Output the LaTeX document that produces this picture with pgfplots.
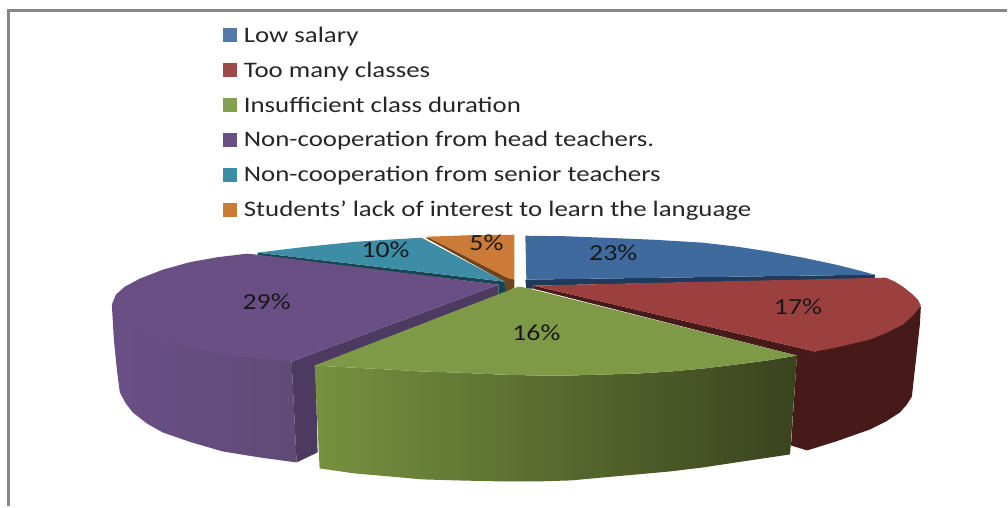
\documentclass[border=0pt]{standalone}
\usepackage{fontspec}
\setmainfont{Carlito}[FakeStretch=1.21]
\usepackage{pgfplots}
\pgfplotsset{compat=1.18}
\definecolor{cB}{HTML}{3F6A9D}\definecolor{cBd}{HTML}{1F3A5A}
\definecolor{cR}{HTML}{9B3F3F}\definecolor{cRd}{HTML}{451A18}
\definecolor{cG}{HTML}{7F9A47}\definecolor{cGl}{HTML}{76913F}\definecolor{cGd}{HTML}{3A431E}
\definecolor{cP}{HTML}{694F84}\definecolor{cPl}{HTML}{6A4F86}\definecolor{cPr}{HTML}{604A76}\definecolor{cPd}{HTML}{4D3A60}
\definecolor{cC}{HTML}{3E8DA6}\definecolor{cCd}{HTML}{174650}
\definecolor{cO}{HTML}{CB7A37}\definecolor{cOd}{HTML}{6E4420}
\pgfplotsset{sq/.style={legend image code/.code={\fill[##1,draw=none] (0pt,-7pt) rectangle (14pt,7pt);\path (21pt,0pt);}}}
\begin{document}
\begin{tikzpicture}
\begin{axis}[
  scale only axis, width=1008pt, height=507pt,
  xmin=0,xmax=1008,ymin=0,ymax=507,y dir=reverse,
  axis lines=none, clip=false,
  legend style={draw=none,fill=none,at={(axis cs:223,27)},anchor=north west,inner sep=0pt,outer sep=0pt,
    font=\fontsize{22.2}{24}\selectfont\color{black!85},
    row sep=18pt,
    nodes={inner sep=0pt,anchor=west}},
  legend cell align=left,
]
\addlegendimage{sq,fill=cB!90!white}\addlegendentry{Low salary}
\addlegendimage{sq,fill=cR!95!white}\addlegendentry{Too many classes}
\addlegendimage{sq,fill=cG!95!white}\addlegendentry{Insufficient class duration}
\addlegendimage{sq,fill=cP}\addlegendentry{Non-cooperation from head teachers.}
\addlegendimage{sq,fill=cC}\addlegendentry{Non-cooperation from senior teachers}
\addlegendimage{sq,fill=cO}\addlegendentry{Students’ lack of interest to learn the language}
% page extent
\addplot[forget plot,draw=none] coordinates {(0,0)(1008,507)};
% frame
\addplot[forget plot,draw=black!47,line width=2.5pt] coordinates {(8.7,507)(8.7,10.3)(1008,10.3)};
% orange
\addplot[forget plot,fill=cOd,draw=none] coordinates {(426,238)(430,238)(508,278)(515,280)(515,288)(507,293)(505,282)} -- cycle;
\addplot[forget plot,fill=cO,draw=none] coordinates {(427,237)(470,235.5)(515,235)(515,280)(508,278)} -- cycle;
% cyan
\addplot[forget plot,fill=cCd,draw=none] coordinates {(258,253)(505,282)(507,292)(499,295)(499,285)(258,256)} -- cycle;
\addplot[forget plot,fill=cC,draw=none] coordinates {(422,238)(388,240)(357,242)(332,244.5)(307,247)(282,250)(258,253)(505,282)} -- cycle;
% purple
\addplot[forget plot,left color=cPl,right color=cPr,draw=none] coordinates {(112,305)(114,340)(117,370)(120,393)(126,404)(133,413)(147,424)(163,433)(192,443)(223,452)(260,458)(297,463)(292,362)} -- cycle;
\addplot[forget plot,fill=cPd,draw=none] coordinates {(292,362)(499,285)(499,295)(316,366)(318,453)(297,463)} -- cycle;
\addplot[forget plot,fill=cP,draw=none] coordinates {(499,285)(258,255)(247,254)(218,257.5)(190,262.5)(163,270)(140,279)(125,287)(116,295)(112,305)(122,316)(140,329)(163,340)(192,348)(223,355)(257,359)(292,362)} -- cycle;
% blue
\addplot[forget plot,fill=cBd,draw=none] coordinates {(526,280)(876,275)(876,279)(534,286)(534,289)(527,289)} -- cycle;
\addplot[forget plot,fill=cB,draw=none] coordinates {(526,236)(565,236.5)(604,238)(654,240)(704,243)(738,247)(771,252)(804,258)(837,265)(857,270)(876,275)(527,280)} -- cycle;
% red
\addplot[forget plot,fill=cRd,draw=none] coordinates {(922,307)(921,325)(919,343)(916,370)(913,397)(908,405)(901,413)(887,422)(871,430)(854,436)(837,442)(808,451)(792,446)(798,355)(816,352)} -- cycle;
\addplot[forget plot,fill=cRd,draw=none] coordinates {(534,286)(816,352)(798,356)(534,289)} -- cycle;
\addplot[forget plot,fill=cR,draw=none] coordinates {(534,286)(887,278)(896,282)(904,287)(914,295)(919,300)(922,306)(914,316)(904,325)(888,333)(871,340)(854,344)(837,348)(816,352)} -- cycle;
% green
\addplot[forget plot,left color=cGl,right color=cGd,draw=none] coordinates {(315,366)(320,469)(355,474)(390,477)(423,480)(457,481)(500,482)(540,482)(572,481)(604,478)(638,475)(671,472)(704,468)(737,463)(764,459)(791,455)(798,356)(768,361)(737,365)(704,369)(671,372)(638,374)(604,375)(570,376)(537,376)(500,375)(457,373)(423,372)(390,370)(352,368)} -- cycle;
\addplot[forget plot,fill=cG,draw=none] coordinates {(519,287)(526,288)(798,356)(768,361)(737,365)(704,369)(671,372)(638,374)(604,375)(570,376)(537,376)(500,375)(457,373)(423,372)(390,370)(352,368)(315,366)} -- cycle;
% labels
\begin{scope}[every node/.style={font=\fontsize{23}{24}\selectfont,text=black!90,inner sep=0pt}]
\node at (axis cs:614,253) {23\%};
\node at (axis cs:799,307) {17\%};
\node at (axis cs:537,333) {16\%};
\node at (axis cs:267,302) {29\%};
\node at (axis cs:386,250) {10\%};
\node at (axis cs:487,243) {5\%};
\end{scope}
\end{axis}
\end{tikzpicture}
\end{document}
